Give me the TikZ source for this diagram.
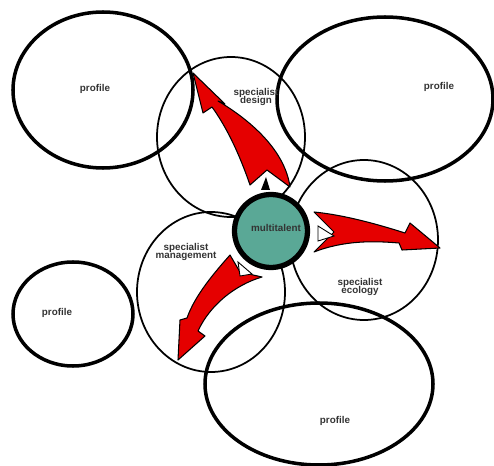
\documentclass[tikz,border=0pt]{standalone}
\usepackage{fontspec}
\setmainfont{Liberation Sans}
\begin{document}
\begin{tikzpicture}[x=0.02cm,y=-0.02cm,
  special/.style={draw=black,line width=1pt},
  lbl/.style={font=\fontsize{5.6}{6}\selectfont\bfseries,text=black!80,align=center,inner sep=0pt},
  redarrow/.style={fill=red!90!black,draw=black,line width=0.6pt,line join=round}]
\useasboundingbox (0,0) rectangle (494,466);
% profile ellipses
\draw[line width=2pt] (103,90) ellipse [x radius=90,y radius=78];
\draw[line width=2pt] (385,99) ellipse [x radius=108,y radius=82];
\draw[line width=2pt] (73,314) ellipse [x radius=60,y radius=52];
\draw[line width=2pt] (319,384) ellipse [x radius=114,y radius=81];
% specialist circles
\draw[special] (231,137) ellipse [x radius=74,y radius=80];
\draw[special] (364,240) ellipse [x radius=74,y radius=80];
\draw[special] (211,292) ellipse [x radius=74,y radius=80];
% labels
\node[lbl] (p1) at (95,89) {profile};
\node[lbl] (p2) at (439,87) {profile};
\node[lbl] (p3) at (57,313) {profile};
\node[lbl] (p4) at (335,421) {profile};
\node[lbl] (sd) at (256,97) {specialist\\[-1pt]design};
\node[lbl] (sm) at (186,252) {specialist\\[-1pt]management};
\node[lbl] (se) at (360,287) {specialist\\[-1pt]ecology};
% red arrows
\path[redarrow] (193,73) -- (225,104) -- (218,101)
  .. controls (250,120) and (285,150) .. (290,187) -- (267,170) -- (250,185)
  .. controls (238,150) and (225,125) .. (212,107) -- (203,113) -- cycle;
\path[redarrow] (314,212) .. controls (345,215) and (380,225) .. (405,233)
  -- (410,223) -- (440,248) -- (402,250) -- (399,243)
  .. controls (375,241) and (345,240) .. (314,252) -- (334,232) -- cycle;
\path[redarrow] (230,255) .. controls (215,272) and (195,295) .. (187,318)
  -- (180,320) -- (178,360) -- (205,336) -- (198,331)
  .. controls (210,305) and (235,285) .. (262,277) -- (240,272) -- cycle;
% small white/black arrow pieces
\path[draw=black,fill=white,line width=0.5pt] (318,226) -- (334,236) -- (318,241) -- cycle;
\path[draw=black,fill=white,line width=0.5pt] (238,262) -- (252,274) -- (240,276) -- cycle;
\path[fill=black] (261,190) -- (266,177) -- (270,190) -- cycle;
% center
\node[circle,draw=black,line width=3pt,fill={rgb,255:red,90;green,168;blue,150},minimum size=1.46cm,inner sep=0pt] (mt) at (271,231) {};
\node[lbl] (mtl) at (276,228) {multitalent};
\end{tikzpicture}
\end{document}
